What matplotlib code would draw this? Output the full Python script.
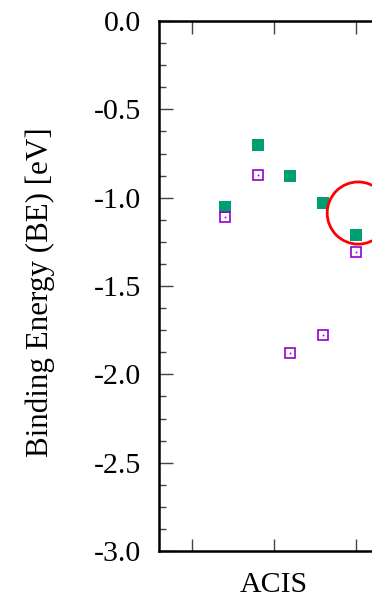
import matplotlib
matplotlib.use("Agg")
import matplotlib.pyplot as plt
from matplotlib.patches import Ellipse
from matplotlib.ticker import MultipleLocator, FormatStrFormatter

# Binding energies (eV) for five configurations within the ACIS group
positions = [1.4, 1.8, 2.2, 2.6, 3.0]
be_filled = [-1.05, -0.70, -0.88, -1.03, -1.21]
be_open = [-1.11, -0.87, -1.88, -1.78, -1.31]
group_ticks = [1, 2, 3]
group_labels = ["", "ACIS", ""]

plt.rcParams["font.family"] = ["Liberation Serif", "DejaVu Serif"]
plt.rcParams["axes.unicode_minus"] = False

W, H, DPI = 372, 597, 100
fig = plt.figure(figsize=(W / DPI, H / DPI), dpi=DPI)

left, right, top, bottom = 159, 389, 21, 551
ax = fig.add_axes([left / W, 1 - bottom / H, (right - left) / W, (bottom - top) / H])

green = "#009E73"
violet = "#9400D3"

ax.plot(positions, be_filled, linestyle="none", marker="s", markersize=8,
        color=green, markeredgewidth=0, zorder=3)
ax.plot(positions, be_open, linestyle="none", marker="s", markersize=7.2,
        markerfacecolor="none", markeredgecolor=violet, markeredgewidth=1.2, zorder=3)
ax.plot(positions, be_open, linestyle="none", marker="s", markersize=1.2,
        color=violet, markeredgewidth=0, zorder=3)

# highlight ring around the last configuration
ax.add_patch(Ellipse((3.025, -1.087), width=0.755, height=0.352, fill=False,
                     edgecolor="red", linewidth=2.0, zorder=4))

ax.set_xlim(0.6, 3.4)
ax.set_ylim(-3.0, 0.0)

ax.yaxis.set_major_locator(MultipleLocator(0.5))
ax.yaxis.set_minor_locator(MultipleLocator(0.125))
ax.yaxis.set_major_formatter(FormatStrFormatter("%.1f"))
ax.set_xticks(group_ticks)
ax.set_xticklabels(group_labels)

ax.tick_params(axis="y", which="major", direction="in", length=10, width=1.0,
               color="#444444", labelsize=21.5, pad=13, right=False)
ax.tick_params(axis="y", which="minor", direction="in", length=5, width=1.0,
               color="#444444", right=False)
ax.tick_params(axis="x", which="major", direction="in", length=9, width=1.0,
               color="#444444", labelsize=21.5, pad=15, top=True)

for side in ("left", "top", "bottom"):
    ax.spines[side].set_linewidth(1.8)
ax.spines["right"].set_visible(False)

ax.set_ylabel("Binding Energy (BE) [eV]", fontsize=22.3)
ax.yaxis.set_label_coords(-0.452, 0.489)

fig.savefig("out.png", dpi=DPI)
